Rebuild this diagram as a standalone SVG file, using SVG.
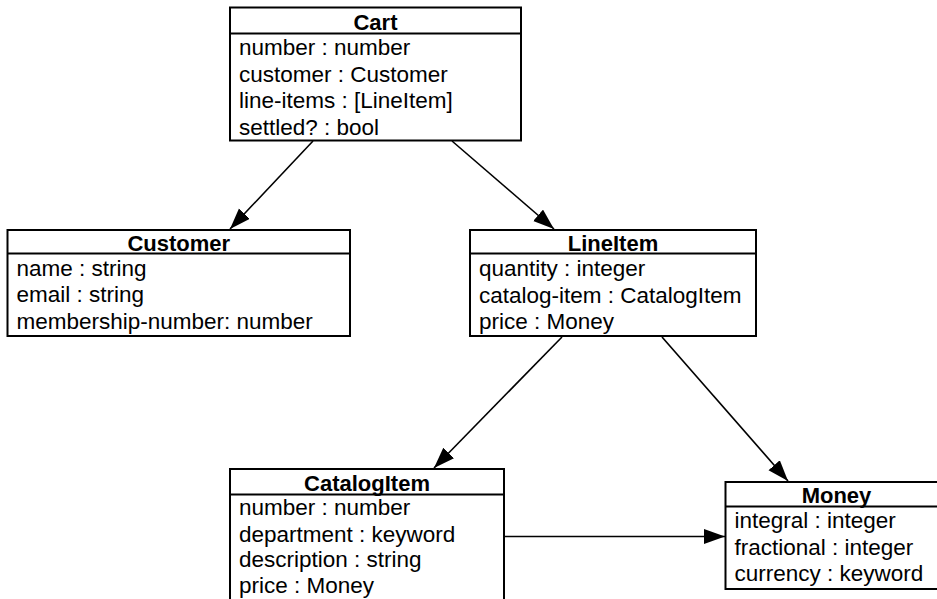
<svg xmlns="http://www.w3.org/2000/svg" width="937" height="599" viewBox="0 0 937 599">
<style>
.box{fill:#fff;stroke:#000;stroke-width:2}
.sep{stroke:#000;stroke-width:2}
.t{font-family:"Liberation Sans",Arial,Helvetica,sans-serif;font-size:22px;font-weight:bold;text-anchor:middle;fill:#000}
.a{font-family:"Liberation Sans",Arial,Helvetica,sans-serif;font-size:22.5px;fill:#000}
.c{stroke:#000;stroke-width:1.6;fill:none;marker-end:url(#arr)}
</style>
<defs>
<marker id="arr" markerUnits="userSpaceOnUse" markerWidth="22" markerHeight="16" refX="21" refY="7.5" orient="auto">
<path d="M0,0 L21,7.5 L0,15 z" fill="#000"/>
</marker>
</defs>
<rect width="937" height="599" fill="#fff"/>
<g id="connectors">
<line class="c" x1="313" y1="141" x2="230" y2="229"/>
<line class="c" x1="452" y1="141" x2="554" y2="229"/>
<line class="c" x1="562" y1="337" x2="434" y2="468"/>
<line class="c" x1="662" y1="337" x2="788" y2="481"/>
<line class="c" x1="504" y1="536.5" x2="725" y2="536.5"/>
</g>
<g id="cart">
<rect class="box" x="230" y="7.5" width="291" height="133"/>
<line class="sep" x1="230" y1="33.5" x2="521" y2="33.5"/>
<text class="t" x="375.5" y="30">Cart</text>
<text class="a" x="239" y="55">number : number</text>
<text class="a" x="239" y="81.5">customer : Customer</text>
<text class="a" x="239" y="108">line-items : [LineItem]</text>
<text class="a" x="239" y="134.5">settled? : bool</text>
</g>
<g id="customer">
<rect class="box" x="7.5" y="230" width="342.5" height="106"/>
<line class="sep" x1="7.5" y1="253.5" x2="350" y2="253.5"/>
<text class="t" x="178.75" y="250.5">Customer</text>
<text class="a" x="16.5" y="275.5">name : string</text>
<text class="a" x="16.5" y="302">email : string</text>
<text class="a" x="16.5" y="328.5">membership-number: number</text>
</g>
<g id="lineitem">
<rect class="box" x="470" y="230" width="286" height="106"/>
<line class="sep" x1="470" y1="253.5" x2="756" y2="253.5"/>
<text class="t" x="613" y="250.5">LineItem</text>
<text class="a" x="479" y="276">quantity : integer</text>
<text class="a" x="479" y="302.5">catalog-item : CatalogItem</text>
<text class="a" x="479" y="328.5">price : Money</text>
</g>
<g id="catalogitem">
<rect class="box" x="230" y="469" width="274" height="140"/>
<line class="sep" x1="230" y1="494.5" x2="504" y2="494.5"/>
<text class="t" x="367" y="491">CatalogItem</text>
<text class="a" x="239" y="515">number : number</text>
<text class="a" x="239" y="541.5">department : keyword</text>
<text class="a" x="239" y="567">description : string</text>
<text class="a" x="239" y="592.5">price : Money</text>
</g>
<g id="money">
<rect class="box" x="725.5" y="482" width="222" height="107"/>
<line class="sep" x1="725.5" y1="506.5" x2="947.5" y2="506.5"/>
<text class="t" x="836.5" y="503">Money</text>
<text class="a" x="734.5" y="528">integral : integer</text>
<text class="a" x="734.5" y="554.5">fractional : integer</text>
<text class="a" x="734.5" y="581">currency : keyword</text>
</g>
</svg>
